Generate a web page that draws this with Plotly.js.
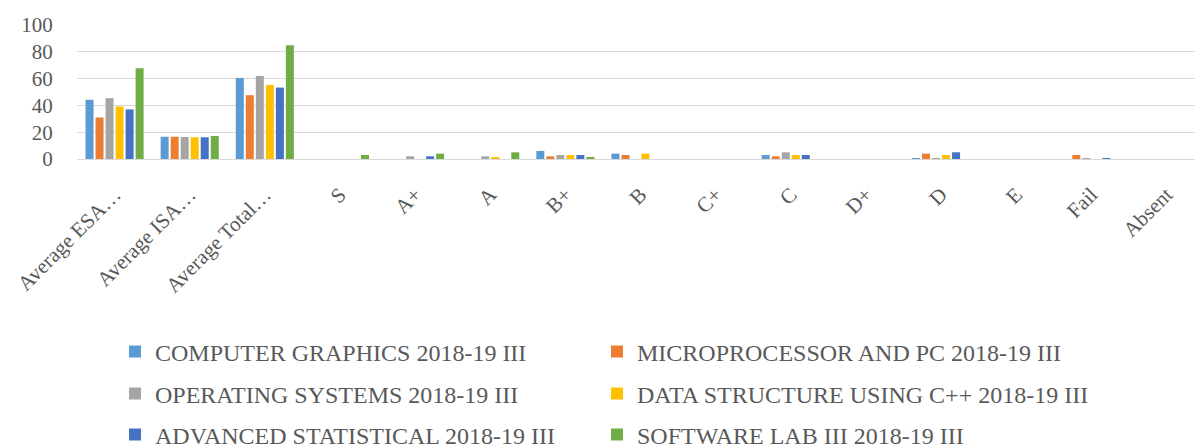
<!DOCTYPE html>
<html>
<head>
<meta charset="utf-8">
<script src="https://cdn.plot.ly/plotly-3.0.1.min.js"></script>
<style>
html,body{margin:0;padding:0;overflow:hidden;background:#fff;}
#chart{width:1210px;height:448px;}
</style>
</head>
<body>
<div id="chart"></div>
<script>
const categories = ['Average ESA…','Average ISA…','Average Total…','S','A+','A','B+','B','C+','C','D+','D','E','Fail','Absent'];

const seriesNames = [
  'COMPUTER GRAPHICS 2018-19 III',
  'MICROPROCESSOR AND PC 2018-19 III',
  'OPERATING SYSTEMS 2018-19 III',
  'DATA STRUCTURE USING C++ 2018-19 III',
  'ADVANCED STATISTICAL 2018-19 III',
  'SOFTWARE LAB III 2018-19 III'
];

const computerGraphics = [44.2, 16.6, 60.5, 0, 0, 0, 6, 4, 0, 3, 0, 0.7, 0, 0, 0];
const microprocessor   = [31.0, 16.6, 47.6, 0, 0, 0, 2, 3, 0, 2, 0, 4, 0, 3, 0];
const operatingSystems = [45.4, 16.4, 62.0, 0, 2, 2, 3, 0, 0, 5, 0, 0.7, 0, 0.7, 0];
const dataStructure    = [39.2, 16.2, 55.3, 0, 0, 1, 3, 4, 0, 3, 0, 3, 0, 0, 0];
const advancedStat     = [37.0, 16.2, 53.3, 0, 2, 0, 3, 0, 0, 3, 0, 5, 0, 0.7, 0];
const softwareLab      = [67.7, 17.2, 84.9, 3, 4, 5, 1.5, 0, 0, 0, 0, 0, 0, 0, 0];

const seriesValues = [computerGraphics, microprocessor, operatingSystems, dataStructure, advancedStat, softwareLab];
const colors = ['#5B9BD5','#ED7D31','#A5A5A5','#FFC000','#4472C4','#70AD47'];

const W = 1210, H = 448;
const legendX = [115, 597];
const legendY = [352, 394, 435];
const legendIds = ['legend','legend2','legend3','legend4','legend5','legend6'];
const textColor = '#595959';
const fontFamily = '"Liberation Serif","Times New Roman",serif';

const traces = seriesValues.map((vals, i) => ({
  type: 'bar',
  name: seriesNames[i],
  x: categories,
  y: vals,
  marker: {color: colors[i]},
  legend: legendIds[i],
  hoverinfo: 'x+y+name'
}));

const layout = {
  width: W, height: H,
  margin: {l: 77, r: 6, t: 25, b: 289},
  paper_bgcolor: '#fff',
  plot_bgcolor: '#fff',
  barmode: 'group',
  bargap: 0.2,
  bargroupgap: 0.2,
  font: {family: fontFamily, color: textColor},
  xaxis: {
    type: 'category',
    tickangle: -45,
    tickfont: {family: fontFamily, size: 21, color: textColor},
    ticks: 'outside', ticklen: 14, tickcolor: 'rgba(0,0,0,0)',
    showgrid: false, showline: false, zeroline: false
  },
  yaxis: {
    range: [0, 100],
    dtick: 20,
    tickfont: {family: fontFamily, size: 21, color: textColor},
    gridcolor: '#d9d9d9', gridwidth: 1.3,
    zeroline: true, zerolinecolor: '#d9d9d9', zerolinewidth: 1.3,
    ticks: 'outside', ticklen: 19, tickcolor: 'rgba(0,0,0,0)',
    showline: false
  },
  showlegend: true
};

legendIds.forEach((id, i) => {
  const col = i % 2, row = Math.floor(i / 2);
  layout[id] = {
    xref: 'container', yref: 'container',
    x: legendX[col] / W, y: 1 - legendY[row] / H,
    xanchor: 'left', yanchor: 'middle',
    orientation: 'h',
    bgcolor: 'rgba(0,0,0,0)',
    font: {family: fontFamily, size: 24, color: textColor}
  };
});

Plotly.newPlot('chart', traces, layout, {displayModeBar: false, responsive: false});
</script>
</body>
</html>
